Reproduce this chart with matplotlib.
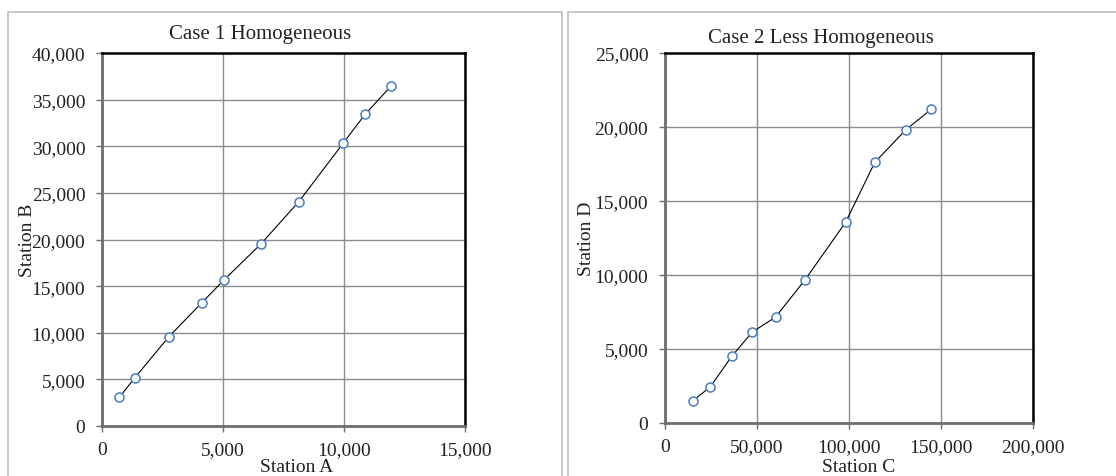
import matplotlib
matplotlib.use("Agg")
import matplotlib.pyplot as plt
from matplotlib.patches import Rectangle
from matplotlib.ticker import FuncFormatter, MultipleLocator

plt.rcParams['font.family'] = ['Liberation Serif', 'DejaVu Serif']

# Case 1 data
station_a = [716, 1349, 2766, 4128, 5023, 6578, 8133, 9963, 10872, 11945]
station_b = [3074, 5147, 9580, 13226, 15621, 19553, 24057, 30313, 33423, 36461]

# Case 2 data
station_c = [15204, 24615, 36199, 47421, 60090, 76199, 98100, 114027, 131040, 144796]
station_d = [1513, 2439, 4494, 6142, 7159, 9688, 13550, 17615, 19828, 21206]

fig = plt.figure(figsize=(11.16, 4.77), dpi=100)

# light panel frames
fig.patches.append(Rectangle((8 / 1116, -0.05), (562 - 8) / 1116, 1.05 - 13 / 477,
                             transform=fig.transFigure, fill=False,
                             edgecolor='#bfbfbf', linewidth=1.2))
fig.patches.append(Rectangle((568 / 1116, -0.05), 0.6, 1.05 - 13 / 477,
                             transform=fig.transFigure, fill=False,
                             edgecolor='#bfbfbf', linewidth=1.2))

comma = FuncFormatter(lambda v, p: f"{int(v):,}")


def style(ax, xmax, xstep, ymax, ystep):
    ax.set_xlim(0, xmax)
    ax.set_ylim(0, ymax)
    ax.xaxis.set_major_locator(MultipleLocator(xstep))
    ax.yaxis.set_major_locator(MultipleLocator(ystep))
    ax.xaxis.set_major_formatter(comma)
    ax.yaxis.set_major_formatter(comma)
    ax.grid(True, color='#8c8c8c', linewidth=1)
    ax.set_axisbelow(True)
    for s in ['top', 'right']:
        ax.spines[s].set_color('black')
        ax.spines[s].set_linewidth(1.8)
    for s in ['left', 'bottom']:
        ax.spines[s].set_color('#6e6e6e')
        ax.spines[s].set_linewidth(2)
    ax.tick_params(direction='out', length=4, width=1, color='#6e6e6e',
                   labelsize=14, labelcolor='#222222')
    ax.tick_params(axis='x', pad=7)
    ax.tick_params(axis='y', pad=8)


ax1 = fig.add_axes([102 / 1116, 50 / 477, 363 / 1116, 373 / 477])
ax1.plot(station_a, station_b, color='black', linewidth=0.8, marker='o',
         markersize=6.5, markerfacecolor='white', markeredgecolor='#4a7ebb',
         markeredgewidth=1.1, clip_on=False, zorder=3)
style(ax1, 15000, 5000, 40000, 5000)
ax1.set_title("Case 1 Homogeneous", fontsize=15, color='#222222', x=0.435, pad=11)
ax1.set_xlabel("Station A", fontsize=14, color='#222222')
ax1.set_ylabel("Station B", fontsize=14, color='#222222')
ax1.xaxis.set_label_coords(0.537, -0.087)
ax1.yaxis.set_label_coords(-0.182, 0.5)

ax2 = fig.add_axes([665 / 1116, 53 / 477, 368 / 1116, 370 / 477])
ax2.plot(station_c, station_d, color='black', linewidth=0.8, marker='o',
         markersize=6.5, markerfacecolor='white', markeredgecolor='#4a7ebb',
         markeredgewidth=1.1, clip_on=False, zorder=3)
style(ax2, 200000, 50000, 25000, 5000)
ax2.set_title("Case 2 Less Homogeneous", fontsize=15, color='#222222', x=0.424, pad=8)
ax2.set_xlabel("Station C", fontsize=14, color='#222222')
ax2.set_ylabel("Station D", fontsize=14, color='#222222')
ax2.xaxis.set_label_coords(0.527, -0.095)
ax2.yaxis.set_label_coords(-0.19, 0.5)

fig.savefig("out.png", dpi=100)
